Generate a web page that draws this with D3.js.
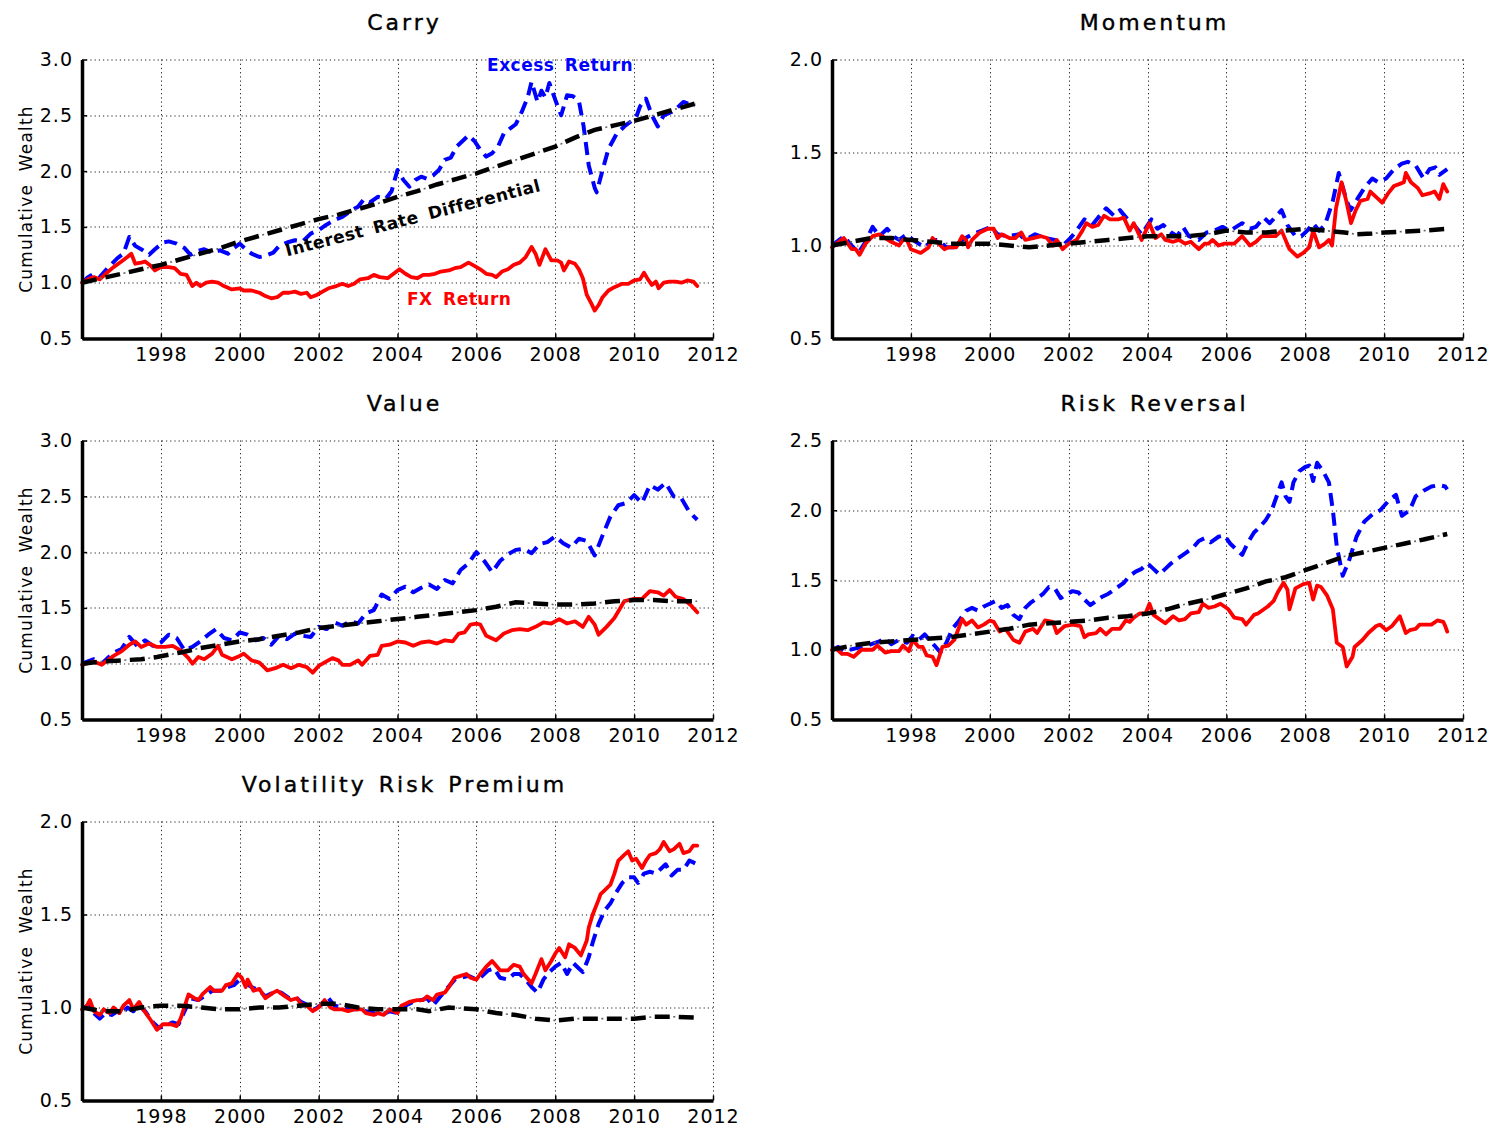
<!DOCTYPE html>
<html>
<head>
<meta charset="utf-8">
<script src="https://cdn.jsdelivr.net/npm/d3@7"></script>
<style>
  html, body { margin: 0; padding: 0; background: #fff; }
  svg { display: block; }
  .tick text { font-family: "DejaVu Sans", sans-serif; font-size: 19px; letter-spacing: 1px; fill: #000; }
</style>
</head>
<body>
<svg id="chart" width="1496" height="1128"></svg>
<script>
// ---- Shared axis values ----
const xDomain = [1996, 2012];
const xTicks = [1998, 2000, 2002, 2004, 2006, 2008, 2010, 2012];
const yTicks30 = [0.5, 1.0, 1.5, 2.0, 2.5, 3.0];
const yTicks25 = [0.5, 1.0, 1.5, 2.0, 2.5];
const yTicks20 = [0.5, 1.0, 1.5, 2.0];

// ---- Carry ----
const carryExcess = [[1996.0,1.00],[1996.15,1.05],[1996.3,1.08],[1996.45,1.05],[1996.7,1.15],[1996.9,1.22],[1997.05,1.26],[1997.2,1.41],[1997.35,1.33],[1997.5,1.30],[1997.7,1.25],[1997.85,1.30],[1998.05,1.36],[1998.2,1.37],[1998.4,1.35],[1998.6,1.31],[1998.75,1.25],[1998.9,1.28],[1999.1,1.30],[1999.3,1.27],[1999.5,1.29],[1999.7,1.26],[1999.85,1.31],[2000.0,1.35],[2000.15,1.30],[2000.3,1.26],[2000.5,1.23],[2000.65,1.24],[2000.85,1.27],[2001.0,1.33],[2001.2,1.36],[2001.4,1.38],[2001.6,1.37],[2001.8,1.44],[2002.0,1.47],[2002.2,1.52],[2002.4,1.56],[2002.6,1.59],[2002.8,1.64],[2003.0,1.68],[2003.15,1.75],[2003.3,1.72],[2003.5,1.77],[2003.7,1.75],[2003.85,1.82],[2004.0,2.01],[2004.15,1.92],[2004.3,1.86],[2004.45,1.92],[2004.6,1.95],[2004.75,1.93],[2004.9,1.96],[2005.05,2.01],[2005.2,2.10],[2005.35,2.12],[2005.5,2.22],[2005.65,2.27],[2005.8,2.32],[2005.95,2.27],[2006.1,2.19],[2006.25,2.13],[2006.4,2.16],[2006.55,2.22],[2006.7,2.34],[2006.85,2.38],[2007.0,2.42],[2007.15,2.53],[2007.3,2.66],[2007.4,2.80],[2007.55,2.62],[2007.65,2.72],[2007.75,2.66],[2007.85,2.79],[2008.0,2.64],[2008.15,2.50],[2008.3,2.68],[2008.45,2.67],[2008.6,2.63],[2008.72,2.40],[2008.85,2.05],[2009.0,1.85],[2009.05,1.81],[2009.2,2.01],[2009.35,2.20],[2009.55,2.33],[2009.75,2.40],[2009.9,2.44],[2010.05,2.48],[2010.15,2.58],[2010.3,2.65],[2010.45,2.50],[2010.6,2.40],[2010.75,2.50],[2010.95,2.53],[2011.1,2.57],[2011.25,2.62],[2011.4,2.60],[2011.55,2.59]];
const carryFx = [[1996.0,1.00],[1996.15,1.03],[1996.3,1.05],[1996.45,1.03],[1996.6,1.08],[1996.8,1.14],[1997.0,1.19],[1997.15,1.23],[1997.25,1.26],[1997.35,1.17],[1997.5,1.18],[1997.6,1.19],[1997.75,1.15],[1997.85,1.11],[1998.0,1.14],[1998.2,1.14],[1998.35,1.13],[1998.5,1.08],[1998.65,1.07],[1998.8,0.97],[1998.9,1.00],[1999.0,0.97],[1999.15,1.00],[1999.3,1.01],[1999.45,1.00],[1999.6,0.97],[1999.8,0.94],[2000.0,0.95],[2000.1,0.93],[2000.3,0.93],[2000.5,0.91],[2000.65,0.88],[2000.8,0.86],[2000.95,0.87],[2001.1,0.91],[2001.25,0.91],[2001.4,0.92],[2001.55,0.90],[2001.7,0.91],[2001.8,0.87],[2001.95,0.89],[2002.1,0.92],[2002.25,0.95],[2002.45,0.97],[2002.6,0.99],[2002.75,0.97],[2002.9,0.99],[2003.05,1.03],[2003.25,1.04],[2003.4,1.07],[2003.55,1.05],[2003.75,1.04],[2003.9,1.08],[2004.05,1.12],[2004.2,1.08],[2004.35,1.05],[2004.5,1.04],[2004.65,1.07],[2004.8,1.07],[2004.95,1.08],[2005.1,1.10],[2005.3,1.11],[2005.45,1.13],[2005.6,1.14],[2005.8,1.18],[2005.95,1.15],[2006.1,1.12],[2006.25,1.08],[2006.4,1.07],[2006.5,1.05],[2006.65,1.10],[2006.8,1.12],[2006.95,1.16],[2007.1,1.18],[2007.25,1.23],[2007.4,1.32],[2007.5,1.26],[2007.6,1.16],[2007.75,1.30],[2007.9,1.20],[2008.05,1.20],[2008.15,1.18],[2008.22,1.11],[2008.35,1.19],[2008.5,1.17],[2008.6,1.12],[2008.7,1.04],[2008.8,0.89],[2008.92,0.81],[2009.0,0.75],[2009.1,0.80],[2009.2,0.87],[2009.35,0.93],[2009.5,0.96],[2009.7,0.99],[2009.85,0.99],[2010.0,1.02],[2010.15,1.03],[2010.25,1.09],[2010.35,1.03],[2010.45,0.98],[2010.55,1.01],[2010.62,0.95],[2010.75,1.00],[2010.9,1.01],[2011.05,1.01],[2011.2,1.00],[2011.35,1.02],[2011.5,1.01],[2011.6,0.97]];
const carryIrd = [[1996.0,1.00],[1996.5,1.04],[1997.0,1.08],[1997.5,1.12],[1998.0,1.16],[1998.5,1.21],[1999.0,1.26],[1999.5,1.31],[2000.0,1.37],[2000.5,1.42],[2001.0,1.47],[2001.5,1.52],[2002.0,1.57],[2002.5,1.61],[2003.0,1.66],[2003.5,1.71],[2004.0,1.77],[2004.5,1.82],[2005.0,1.88],[2005.5,1.93],[2006.0,1.98],[2006.5,2.04],[2007.0,2.10],[2007.5,2.16],[2008.0,2.22],[2008.5,2.30],[2009.0,2.37],[2009.5,2.41],[2010.0,2.45],[2010.5,2.50],[2011.0,2.55],[2011.6,2.61]];

// ---- Momentum ----
const momExcess = [[1996.0,1.00],[1996.3,1.05],[1996.5,1.00],[1996.67,0.96],[1996.85,1.02],[1997.03,1.10],[1997.2,1.05],[1997.4,1.09],[1997.55,1.05],[1997.7,1.03],[1997.9,1.06],[1998.05,1.03],[1998.35,0.99],[1998.55,1.03],[1998.7,1.03],[1998.9,0.99],[1999.1,0.99],[1999.3,1.03],[1999.55,1.06],[1999.8,1.08],[2000.03,1.10],[2000.2,1.06],[2000.45,1.05],[2000.75,1.06],[2000.9,1.03],[2001.15,1.06],[2001.4,1.04],[2001.65,1.03],[2001.85,1.00],[2002.05,1.04],[2002.2,1.08],[2002.4,1.14],[2002.6,1.11],[2002.75,1.15],[2002.95,1.20],[2003.15,1.16],[2003.3,1.19],[2003.5,1.14],[2003.7,1.10],[2003.85,1.06],[2004.1,1.14],[2004.25,1.09],[2004.4,1.11],[2004.6,1.07],[2004.75,1.05],[2004.9,1.10],[2005.05,1.05],[2005.3,1.03],[2005.5,1.07],[2005.7,1.08],[2005.9,1.10],[2006.1,1.08],[2006.4,1.12],[2006.6,1.09],[2006.75,1.10],[2006.95,1.15],[2007.1,1.12],[2007.4,1.19],[2007.55,1.11],[2007.75,1.05],[2007.9,1.05],[2008.05,1.08],[2008.2,1.12],[2008.35,1.08],[2008.5,1.11],[2008.7,1.24],[2008.85,1.39],[2009.05,1.24],[2009.15,1.19],[2009.35,1.26],[2009.5,1.31],[2009.7,1.36],[2009.85,1.34],[2010.05,1.36],[2010.25,1.41],[2010.45,1.44],[2010.6,1.45],[2010.8,1.43],[2011.0,1.36],[2011.15,1.41],[2011.3,1.42],[2011.4,1.38],[2011.6,1.41]];
const momFx = [[1996.0,0.99],[1996.3,1.04],[1996.5,0.98],[1996.6,0.98],[1996.7,0.95],[1996.85,1.01],[1997.03,1.05],[1997.2,1.06],[1997.35,1.04],[1997.5,1.02],[1997.7,1.00],[1997.8,1.03],[1997.9,1.03],[1998.0,0.98],[1998.25,0.96],[1998.45,0.99],[1998.55,1.04],[1998.7,1.01],[1998.85,0.98],[1998.95,0.99],[1999.15,0.99],[1999.3,1.05],[1999.4,1.03],[1999.45,0.99],[1999.55,1.03],[1999.75,1.07],[1999.95,1.09],[2000.1,1.09],[2000.2,1.04],[2000.3,1.06],[2000.5,1.04],[2000.65,1.04],[2000.8,1.07],[2000.9,1.03],[2001.1,1.04],[2001.3,1.05],[2001.45,1.04],[2001.6,1.00],[2001.7,1.03],[2001.85,0.98],[2002.0,1.01],[2002.2,1.03],[2002.35,1.08],[2002.45,1.12],[2002.6,1.10],[2002.75,1.11],[2002.9,1.16],[2003.05,1.14],[2003.25,1.14],[2003.4,1.15],[2003.55,1.08],[2003.65,1.12],[2003.85,1.03],[2004.05,1.12],[2004.2,1.04],[2004.35,1.06],[2004.45,1.03],[2004.65,1.02],[2004.8,1.03],[2004.95,1.01],[2005.1,1.02],[2005.3,0.98],[2005.45,1.01],[2005.55,1.01],[2005.65,1.03],[2005.8,1.00],[2005.95,1.01],[2006.2,1.01],[2006.4,1.05],[2006.6,1.00],[2006.75,1.02],[2006.9,1.05],[2007.05,1.05],[2007.25,1.05],[2007.4,1.08],[2007.6,0.98],[2007.8,0.94],[2007.95,0.96],[2008.1,0.99],[2008.2,1.08],[2008.35,0.99],[2008.5,1.01],[2008.6,1.03],[2008.68,1.00],[2008.78,1.20],[2008.92,1.34],[2009.04,1.24],[2009.16,1.12],[2009.28,1.19],[2009.4,1.24],[2009.58,1.25],[2009.65,1.29],[2009.8,1.26],[2009.95,1.23],[2010.1,1.28],[2010.25,1.32],[2010.38,1.33],[2010.5,1.34],[2010.55,1.39],[2010.68,1.34],[2010.85,1.31],[2010.97,1.27],[2011.15,1.28],[2011.28,1.29],[2011.4,1.25],[2011.5,1.33],[2011.6,1.29]];
const momIrd = [[1996.0,1.00],[1996.5,1.02],[1997.0,1.04],[1997.5,1.04],[1998.0,1.03],[1998.5,1.02],[1999.0,1.01],[1999.5,1.01],[2000.0,1.01],[2000.5,1.00],[2001.0,0.99],[2001.5,1.00],[2002.0,1.01],[2002.5,1.02],[2003.0,1.03],[2003.5,1.04],[2004.0,1.05],[2004.5,1.05],[2005.0,1.05],[2005.5,1.06],[2006.0,1.08],[2006.5,1.07],[2007.0,1.07],[2007.5,1.08],[2008.0,1.09],[2008.5,1.08],[2009.0,1.07],[2009.3,1.06],[2009.7,1.065],[2010.0,1.07],[2010.5,1.075],[2011.0,1.08],[2011.6,1.09]];

// ---- Value ----
const valExcess = [[1996.0,1.00],[1996.3,1.04],[1996.5,1.00],[1996.8,1.10],[1997.0,1.13],[1997.2,1.24],[1997.4,1.16],[1997.6,1.21],[1997.8,1.16],[1998.0,1.19],[1998.2,1.26],[1998.4,1.23],[1998.6,1.12],[1998.8,1.15],[1999.0,1.20],[1999.2,1.26],[1999.4,1.31],[1999.6,1.23],[1999.8,1.21],[2000.0,1.28],[2000.2,1.26],[2000.4,1.21],[2000.6,1.23],[2000.8,1.17],[2001.0,1.25],[2001.2,1.22],[2001.4,1.27],[2001.6,1.25],[2001.8,1.24],[2002.0,1.33],[2002.2,1.31],[2002.4,1.37],[2002.6,1.34],[2002.8,1.38],[2003.0,1.36],[2003.2,1.45],[2003.4,1.48],[2003.6,1.62],[2003.8,1.58],[2004.0,1.66],[2004.2,1.69],[2004.4,1.64],[2004.6,1.68],[2004.8,1.71],[2005.0,1.67],[2005.2,1.75],[2005.4,1.72],[2005.6,1.84],[2005.8,1.90],[2006.0,2.00],[2006.2,1.92],[2006.4,1.82],[2006.6,1.92],[2006.8,1.98],[2007.0,2.02],[2007.2,2.03],[2007.4,1.99],[2007.6,2.07],[2007.8,2.09],[2008.0,2.14],[2008.2,2.08],[2008.4,2.04],[2008.6,2.12],[2008.8,2.10],[2009.0,1.97],[2009.2,2.15],[2009.4,2.32],[2009.6,2.42],[2009.8,2.44],[2010.0,2.51],[2010.2,2.44],[2010.4,2.60],[2010.6,2.56],[2010.8,2.62],[2011.0,2.50],[2011.2,2.48],[2011.4,2.36],[2011.6,2.29]];
const valFx = [[1996.0,0.99],[1996.3,1.02],[1996.5,0.99],[1996.8,1.07],[1997.0,1.11],[1997.2,1.17],[1997.35,1.20],[1997.5,1.15],[1997.7,1.18],[1997.9,1.15],[1998.1,1.15],[1998.3,1.16],[1998.5,1.12],[1998.7,1.05],[1998.8,1.00],[1998.95,1.06],[1999.1,1.04],[1999.3,1.09],[1999.45,1.16],[1999.55,1.08],[1999.8,1.04],[2000.0,1.07],[2000.1,1.09],[2000.3,1.03],[2000.5,1.01],[2000.7,0.94],[2000.9,0.96],[2001.1,0.99],[2001.3,0.96],[2001.5,0.99],[2001.7,0.97],[2001.85,0.92],[2002.0,0.98],[2002.2,1.02],[2002.35,1.05],[2002.5,1.03],[2002.6,0.99],[2002.8,0.99],[2003.0,1.03],[2003.1,0.99],[2003.3,1.07],[2003.5,1.08],[2003.6,1.16],[2003.8,1.17],[2004.0,1.20],[2004.2,1.19],[2004.4,1.16],[2004.6,1.19],[2004.8,1.20],[2005.0,1.18],[2005.2,1.21],[2005.4,1.20],[2005.55,1.27],[2005.7,1.28],[2005.85,1.35],[2006.0,1.36],[2006.1,1.35],[2006.25,1.25],[2006.5,1.21],[2006.7,1.27],[2006.9,1.30],[2007.1,1.31],[2007.3,1.30],[2007.5,1.33],[2007.7,1.37],[2007.9,1.36],[2008.1,1.40],[2008.3,1.36],[2008.5,1.38],[2008.7,1.33],[2008.85,1.42],[2009.0,1.35],[2009.1,1.26],[2009.3,1.33],[2009.5,1.41],[2009.75,1.56],[2010.0,1.58],[2010.2,1.58],[2010.4,1.65],[2010.6,1.64],[2010.75,1.61],[2010.9,1.66],[2011.05,1.60],[2011.25,1.58],[2011.45,1.52],[2011.6,1.46]];
const valIrd = [[1996.0,1.00],[1996.5,1.02],[1997.0,1.03],[1997.5,1.04],[1997.9,1.06],[1998.5,1.10],[1999.0,1.14],[1999.5,1.17],[2000.0,1.20],[2000.5,1.22],[2001.0,1.25],[2001.5,1.28],[2002.0,1.32],[2002.5,1.34],[2003.0,1.36],[2003.5,1.38],[2004.0,1.40],[2004.5,1.42],[2005.0,1.44],[2005.5,1.46],[2006.0,1.48],[2006.5,1.51],[2007.0,1.55],[2007.5,1.54],[2008.0,1.53],[2008.5,1.53],[2009.0,1.54],[2009.5,1.56],[2010.0,1.57],[2010.5,1.57],[2011.0,1.56],[2011.6,1.56]];

// ---- Risk Reversal ----
const rrExcess = [[1996.0,1.00],[1996.15,1.02],[1996.3,0.99],[1996.6,1.01],[1996.9,1.03],[1997.2,1.06],[1997.35,1.08],[1997.5,1.04],[1997.7,1.07],[1997.9,1.05],[1998.05,1.10],[1998.2,1.07],[1998.35,1.11],[1998.5,1.06],[1998.6,1.03],[1998.75,0.98],[1998.9,1.05],[1999.05,1.15],[1999.2,1.20],[1999.4,1.28],[1999.55,1.30],[1999.7,1.28],[1999.85,1.31],[2000.0,1.33],[2000.15,1.35],[2000.3,1.30],[2000.45,1.32],[2000.6,1.25],[2000.75,1.22],[2000.9,1.30],[2001.05,1.34],[2001.2,1.37],[2001.35,1.40],[2001.5,1.45],[2001.65,1.44],[2001.8,1.37],[2001.95,1.40],[2002.1,1.42],[2002.25,1.41],[2002.4,1.36],[2002.55,1.32],[2002.7,1.35],[2002.85,1.38],[2003.0,1.40],[2003.2,1.44],[2003.4,1.48],[2003.55,1.53],[2003.7,1.56],[2003.85,1.58],[2004.0,1.62],[2004.15,1.58],[2004.3,1.54],[2004.45,1.58],[2004.6,1.62],[2004.8,1.66],[2005.0,1.70],[2005.15,1.73],[2005.3,1.78],[2005.45,1.80],[2005.6,1.77],[2005.8,1.81],[2005.95,1.82],[2006.1,1.76],[2006.25,1.72],[2006.4,1.68],[2006.55,1.77],[2006.7,1.84],[2006.85,1.88],[2007.0,1.93],[2007.15,2.00],[2007.3,2.12],[2007.4,2.20],[2007.5,2.10],[2007.6,2.06],[2007.7,2.20],[2007.85,2.28],[2008.0,2.31],[2008.1,2.32],[2008.2,2.21],[2008.3,2.34],[2008.45,2.28],[2008.6,2.20],[2008.7,2.00],[2008.8,1.74],[2008.95,1.53],[2009.1,1.63],[2009.3,1.81],[2009.5,1.92],[2009.7,1.97],[2009.9,2.00],[2010.15,2.08],[2010.3,2.11],[2010.45,1.96],[2010.65,2.00],[2010.8,2.10],[2011.0,2.14],[2011.2,2.17],[2011.4,2.18],[2011.55,2.17],[2011.6,2.15]];
const rrFx = [[1996.0,1.00],[1996.1,1.01],[1996.25,0.97],[1996.4,0.97],[1996.55,0.95],[1996.75,1.00],[1997.03,1.00],[1997.15,1.03],[1997.35,0.98],[1997.5,0.99],[1997.7,0.99],[1997.8,1.03],[1997.95,0.99],[1998.05,1.07],[1998.2,1.02],[1998.3,1.02],[1998.4,0.96],[1998.55,0.95],[1998.65,0.89],[1998.8,1.02],[1998.95,1.03],[1999.1,1.07],[1999.3,1.22],[1999.4,1.18],[1999.55,1.21],[1999.7,1.16],[1999.85,1.18],[2000.0,1.21],[2000.1,1.20],[2000.25,1.13],[2000.4,1.15],[2000.6,1.07],[2000.75,1.05],[2000.9,1.13],[2001.1,1.15],[2001.2,1.12],[2001.4,1.21],[2001.6,1.20],[2001.7,1.12],[2001.9,1.17],[2002.1,1.18],[2002.3,1.17],[2002.4,1.09],[2002.5,1.11],[2002.7,1.12],[2002.8,1.15],[2002.95,1.11],[2003.1,1.15],[2003.3,1.15],[2003.45,1.21],[2003.55,1.20],[2003.65,1.23],[2003.8,1.26],[2003.95,1.26],[2004.05,1.33],[2004.15,1.25],[2004.35,1.21],[2004.45,1.19],[2004.65,1.24],[2004.8,1.21],[2004.95,1.22],[2005.1,1.26],[2005.3,1.27],[2005.4,1.33],[2005.55,1.30],[2005.7,1.31],[2005.85,1.33],[2006.05,1.29],[2006.2,1.23],[2006.4,1.22],[2006.5,1.18],[2006.7,1.25],[2006.8,1.26],[2006.95,1.29],[2007.05,1.31],[2007.2,1.35],[2007.3,1.41],[2007.45,1.48],[2007.55,1.43],[2007.6,1.29],[2007.75,1.44],[2007.95,1.47],[2008.1,1.48],[2008.2,1.36],[2008.3,1.46],[2008.4,1.45],[2008.55,1.39],[2008.7,1.29],[2008.8,1.05],[2008.95,1.02],[2009.05,0.88],[2009.2,0.95],[2009.25,1.02],[2009.45,1.07],[2009.6,1.12],[2009.8,1.17],[2009.9,1.18],[2010.05,1.14],[2010.2,1.17],[2010.4,1.24],[2010.55,1.12],[2010.65,1.14],[2010.8,1.15],[2010.9,1.18],[2011.05,1.18],[2011.2,1.18],[2011.35,1.21],[2011.5,1.20],[2011.55,1.17],[2011.6,1.13]];
const rrIrd = [[1996.0,1.00],[1996.5,1.03],[1997.0,1.05],[1997.5,1.06],[1998.0,1.07],[1998.5,1.08],[1999.0,1.09],[1999.5,1.11],[2000.0,1.13],[2000.5,1.15],[2001.0,1.18],[2001.5,1.19],[2002.0,1.20],[2002.5,1.21],[2003.0,1.23],[2003.5,1.24],[2004.0,1.26],[2004.5,1.29],[2005.0,1.33],[2005.5,1.36],[2006.0,1.40],[2006.5,1.44],[2007.0,1.49],[2007.5,1.52],[2008.0,1.57],[2008.5,1.62],[2009.0,1.67],[2009.5,1.70],[2010.0,1.73],[2010.5,1.76],[2011.0,1.79],[2011.6,1.83]];

// ---- Volatility Risk Premium ----
const vrpExcess = [[1996.0,0.99],[1996.2,1.02],[1996.3,0.97],[1996.45,0.94],[1996.6,0.97],[1996.75,0.96],[1996.9,0.98],[1997.0,0.96],[1997.15,1.00],[1997.3,0.98],[1997.45,1.01],[1997.6,0.98],[1997.8,0.92],[1997.95,0.89],[1998.1,0.90],[1998.3,0.92],[1998.45,0.91],[1998.6,0.98],[1998.75,1.05],[1998.95,1.04],[1999.1,1.06],[1999.3,1.09],[1999.5,1.09],[1999.7,1.11],[1999.85,1.12],[2000.0,1.15],[2000.15,1.13],[2000.3,1.11],[2000.5,1.09],[2000.65,1.06],[2000.85,1.08],[2001.05,1.08],[2001.25,1.05],[2001.4,1.06],[2001.55,1.03],[2001.75,1.01],[2001.9,0.99],[2002.1,1.02],[2002.25,1.05],[2002.4,1.01],[2002.6,1.00],[2002.8,0.99],[2003.0,0.99],[2003.2,0.98],[2003.4,0.97],[2003.6,0.96],[2003.8,0.98],[2004.0,0.97],[2004.2,1.01],[2004.4,1.03],[2004.6,1.04],[2004.75,1.05],[2004.9,1.01],[2005.05,1.05],[2005.25,1.10],[2005.45,1.15],[2005.6,1.16],[2005.8,1.17],[2006.0,1.15],[2006.15,1.17],[2006.3,1.20],[2006.45,1.21],[2006.6,1.16],[2006.8,1.15],[2006.95,1.18],[2007.1,1.18],[2007.25,1.15],[2007.4,1.11],[2007.55,1.08],[2007.7,1.15],[2007.85,1.19],[2008.0,1.22],[2008.15,1.24],[2008.3,1.18],[2008.45,1.24],[2008.6,1.21],[2008.7,1.19],[2008.85,1.27],[2008.95,1.35],[2009.1,1.45],[2009.25,1.52],[2009.4,1.56],[2009.55,1.62],[2009.7,1.67],[2009.85,1.70],[2010.0,1.70],[2010.1,1.67],[2010.25,1.72],[2010.4,1.73],[2010.55,1.72],[2010.7,1.75],[2010.8,1.77],[2010.95,1.71],[2011.1,1.74],[2011.25,1.74],[2011.4,1.79],[2011.5,1.78],[2011.6,1.77]];
const vrpFx = [[1996.0,0.99],[1996.1,1.00],[1996.2,1.04],[1996.3,0.98],[1996.45,0.96],[1996.55,0.99],[1996.7,0.97],[1996.8,1.00],[1996.95,0.97],[1997.05,1.01],[1997.2,1.04],[1997.3,0.99],[1997.45,1.03],[1997.55,0.99],[1997.75,0.93],[1997.9,0.88],[1998.05,0.91],[1998.25,0.91],[1998.4,0.90],[1998.5,0.94],[1998.7,1.07],[1998.85,1.05],[1998.95,1.04],[1999.05,1.07],[1999.25,1.11],[1999.35,1.09],[1999.55,1.09],[1999.65,1.12],[1999.8,1.13],[1999.95,1.18],[2000.05,1.16],[2000.15,1.11],[2000.2,1.15],[2000.35,1.09],[2000.5,1.10],[2000.65,1.05],[2000.85,1.08],[2000.95,1.09],[2001.15,1.06],[2001.3,1.04],[2001.45,1.05],[2001.55,1.02],[2001.7,1.01],[2001.85,0.98],[2002.0,1.00],[2002.15,1.04],[2002.3,1.00],[2002.4,0.99],[2002.6,0.99],[2002.75,0.98],[2002.9,0.99],[2003.1,0.99],[2003.2,0.97],[2003.4,0.96],[2003.5,0.97],[2003.65,0.96],[2003.8,0.99],[2004.0,0.97],[2004.1,1.01],[2004.3,1.03],[2004.5,1.04],[2004.65,1.04],[2004.75,1.06],[2004.9,1.04],[2005.0,1.07],[2005.2,1.08],[2005.3,1.11],[2005.45,1.16],[2005.6,1.17],[2005.75,1.18],[2005.85,1.16],[2006.0,1.15],[2006.1,1.18],[2006.25,1.22],[2006.4,1.25],[2006.6,1.20],[2006.8,1.20],[2006.95,1.23],[2007.1,1.22],[2007.2,1.18],[2007.4,1.13],[2007.5,1.18],[2007.65,1.26],[2007.75,1.20],[2007.9,1.25],[2008.0,1.29],[2008.1,1.32],[2008.25,1.27],[2008.35,1.34],[2008.5,1.32],[2008.65,1.28],[2008.8,1.36],[2008.85,1.43],[2008.95,1.50],[2009.1,1.58],[2009.15,1.61],[2009.25,1.63],[2009.4,1.66],[2009.5,1.72],[2009.6,1.79],[2009.75,1.82],[2009.85,1.84],[2009.95,1.79],[2010.05,1.80],[2010.2,1.75],[2010.3,1.79],[2010.4,1.82],[2010.55,1.83],[2010.65,1.85],[2010.75,1.89],[2010.9,1.84],[2011.0,1.85],[2011.15,1.88],[2011.25,1.83],[2011.4,1.84],[2011.5,1.87],[2011.6,1.87]];
const vrpIrd = [[1996.0,1.00],[1996.5,0.98],[1997.0,0.98],[1997.5,1.00],[1998.0,1.01],[1998.5,1.01],[1999.0,1.00],[1999.5,0.99],[2000.0,0.99],[2000.5,1.00],[2001.0,1.00],[2001.5,1.01],[2002.0,1.02],[2002.5,1.02],[2003.0,1.00],[2003.5,0.99],[2004.0,0.99],[2004.5,0.99],[2004.8,0.98],[2005.3,1.00],[2006.0,0.99],[2006.5,0.97],[2007.0,0.96],[2007.5,0.94],[2008.0,0.93],[2008.5,0.94],[2009.0,0.94],[2009.5,0.94],[2010.0,0.94],[2010.5,0.95],[2011.0,0.95],[2011.6,0.945]];

// ---- Panel definitions ----
const panels = [
  { title: "Carry", col: 0, row: 0, yDomain: [0.5, 3.0], yTicks: yTicks30, excess: carryExcess, fx: carryFx, ird: carryIrd, ylabel: true,
    notes: [
      { text: "Excess Return", x: 2006.27, y: 2.90, color: "#0000ff", angle: 0 },
      { text: "FX Return", x: 2004.24, y: 0.80, color: "#ff0000", angle: 0 },
      { text: "Interest Rate Differential", x: 2001.2, y: 1.235, color: "#000000", angle: -14.5 }
    ] },
  { title: "Momentum", col: 1, row: 0, yDomain: [0.5, 2.0], yTicks: yTicks20, excess: momExcess, fx: momFx, ird: momIrd, ylabel: false, notes: [] },
  { title: "Value", col: 0, row: 1, yDomain: [0.5, 3.0], yTicks: yTicks30, excess: valExcess, fx: valFx, ird: valIrd, ylabel: true, notes: [] },
  { title: "Risk Reversal", col: 1, row: 1, yDomain: [0.5, 2.5], yTicks: yTicks25, excess: rrExcess, fx: rrFx, ird: rrIrd, ylabel: false, notes: [] },
  { title: "Volatility Risk Premium", col: 0, row: 2, yDomain: [0.5, 2.0], yTicks: yTicks20, excess: vrpExcess, fx: vrpFx, ird: vrpIrd, ylabel: true, notes: [] }
];

// ---- Layout ----
const W = 1496, H = 1128;
const colLeft = [82, 832];
const rowTop = [59.5, 440.5, 821.5];
const plotW = 631, plotH = 279;

const svg = d3.select("#chart");
svg.append("rect").attr("width", W).attr("height", H).attr("fill", "#fff");

panels.forEach(p => {
  const g = svg.append("g").attr("transform", `translate(${colLeft[p.col]},${rowTop[p.row]})`);
  const x = d3.scaleLinear().domain(xDomain).range([0, plotW]);
  const y = d3.scaleLinear().domain(p.yDomain).range([plotH, 0]);

  // dotted grid
  const grid = g.append("g").attr("stroke", "#222").attr("stroke-width", 1).attr("stroke-dasharray", "1.2,3");
  grid.selectAll("line.v").data(xTicks).join("line").attr("class", "v")
    .attr("x1", d => Math.round(x(d)) + 0.5).attr("x2", d => Math.round(x(d)) + 0.5)
    .attr("y1", 0).attr("y2", plotH);
  grid.selectAll("line.h").data(p.yTicks.filter(v => v > p.yDomain[0])).join("line").attr("class", "h")
    .attr("x1", 0).attr("x2", plotW)
    .attr("y1", d => Math.round(y(d)) + 0.5).attr("y2", d => Math.round(y(d)) + 0.5);

  // series: excess return (blue dashed), FX return (red), interest rate differential (black dash-dot)
  const line = d3.line().x(d => x(d[0])).y(d => y(d[1]));
  g.append("path").datum(p.excess).attr("d", line)
    .attr("fill", "none").attr("stroke", "#0000ff").attr("stroke-width", 4)
    .attr("stroke-dasharray", "13,7").attr("stroke-linejoin", "round");
  g.append("path").datum(p.fx).attr("d", line)
    .attr("fill", "none").attr("stroke", "#ff0000").attr("stroke-width", 3.8)
    .attr("stroke-linejoin", "round").attr("stroke-linecap", "round");
  g.append("path").datum(p.ird).attr("d", line)
    .attr("fill", "none").attr("stroke", "#000").attr("stroke-width", 4.5)
    .attr("stroke-dasharray", "15,9");
  g.append("path").datum(p.ird).attr("d", line)
    .attr("fill", "none").attr("stroke", "#666").attr("stroke-width", 1.6)
    .attr("stroke-dasharray", "2,22").attr("stroke-dashoffset", 5.5);

  // axes
  const yAxis = d3.axisLeft(y).tickValues(p.yTicks).tickFormat(d3.format(".1f"))
    .tickSizeInner(-5).tickSizeOuter(0).tickPadding(9);
  const xAxis = d3.axisBottom(x).tickValues(xTicks).tickFormat(d3.format("d"))
    .tickSizeInner(-5).tickSizeOuter(0).tickPadding(9);
  const ya = g.append("g").call(yAxis);
  const xa = g.append("g").attr("transform", `translate(0,${plotH})`).call(xAxis);
  [ya, xa].forEach(a => {
    a.select(".domain").attr("stroke", "#000").attr("stroke-width", 3.5);
    a.selectAll(".tick line").attr("stroke", "#000").attr("stroke-width", 1.5);
    a.selectAll(".tick text").attr("font-family", null).attr("font-size", null);
  });

  // title
  g.append("text").attr("x", plotW / 2 + 7).attr("y", -30)
    .attr("text-anchor", "middle")
    .style("font-family", "'DejaVu Sans', sans-serif").style("font-size", "22px")
    .style("letter-spacing", "3px").style("word-spacing", "2px")
    .attr("fill", "#000").attr("stroke", "#000").attr("stroke-width", 0.4)
    .text(p.title);

  // y label
  if (p.ylabel) {
    g.append("text").attr("transform", `translate(-50,${plotH / 2}) rotate(-90)`)
      .attr("text-anchor", "middle")
      .style("font-family", "'DejaVu Sans', sans-serif").style("font-size", "17px")
      .style("letter-spacing", "1.2px").style("word-spacing", "6px")
      .attr("fill", "#000").text("Cumulative Wealth");
  }

  // in-plot labels
  p.notes.forEach(n => {
    g.append("text")
      .attr("transform", `translate(${x(n.x)},${y(n.y)}) rotate(${n.angle})`)
      .style("font-family", "'DejaVu Sans', sans-serif").style("font-size", "17px")
      .style("font-weight", "bold").style("letter-spacing", "0.5px").style("word-spacing", "4px")
      .attr("fill", n.color).text(n.text);
  });
});
</script>
</body>
</html>
